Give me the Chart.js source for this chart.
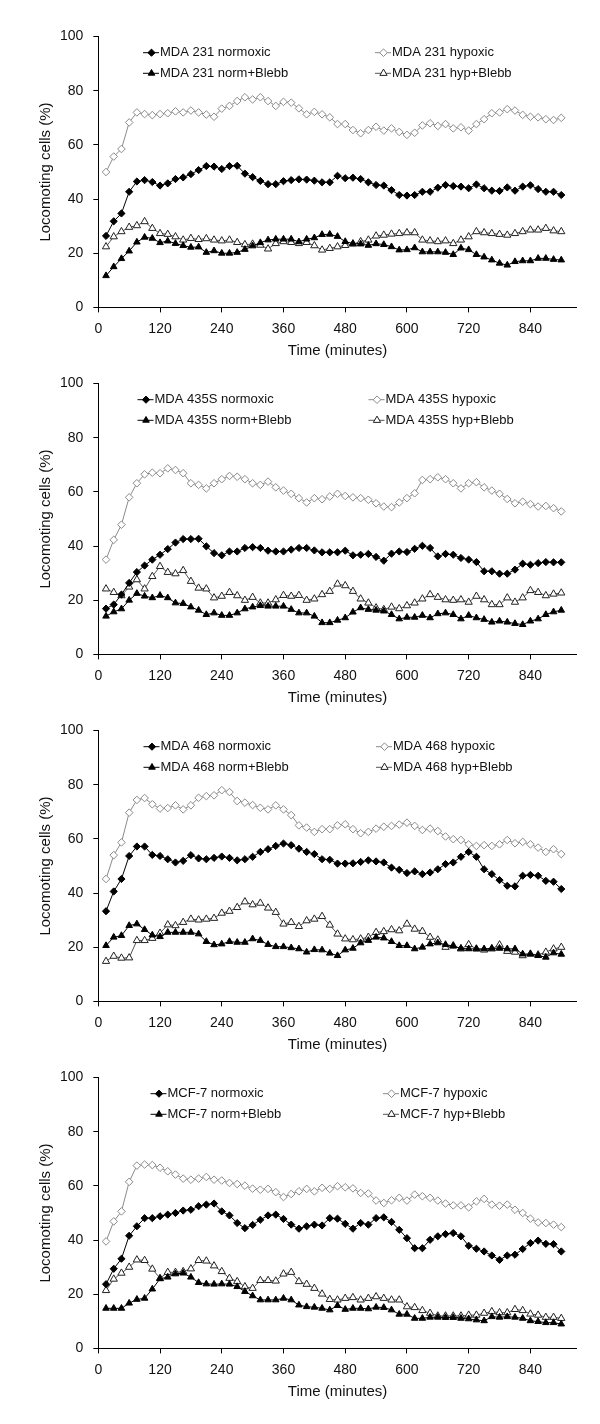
<!DOCTYPE html>
<html>
<head>
<meta charset="utf-8">
<title>Locomoting cells</title>
<script src="https://cdn.jsdelivr.net/npm/chart.js@4/dist/chart.umd.min.js"></script>
<style>
  html, body { margin: 0; padding: 0; background: #fff; }
  #wrap { position: relative; width: 600px; height: 1424px; overflow: hidden; }
  #wrap canvas { position: absolute; left: 0; }
</style>
</head>
<body>
<div id="wrap">
  <canvas id="panel0" width="600" height="360" style="top:0px"></canvas>
  <canvas id="panel1" width="600" height="360" style="top:347px"></canvas>
  <canvas id="panel2" width="600" height="360" style="top:694px"></canvas>
  <canvas id="panel3" width="600" height="360" style="top:1041px"></canvas>
</div>
<script>
// sampling times (minutes)
const TIMES = [15, 30, 45, 60, 75, 90, 105, 120, 135, 150, 165, 180, 195, 210, 225,
  240, 255, 270, 285, 300, 315, 330, 345, 360, 375, 390, 405, 420, 435, 450,
  465, 480, 495, 510, 525, 540, 555, 570, 585, 600, 615, 630, 645, 660, 675,
  690, 705, 720, 735, 750, 765, 780, 795, 810, 825, 840, 855, 870, 885, 900];
const X_TICKS = [0, 120, 240, 360, 480, 600, 720, 840];
const Y_TICKS = [0, 20, 40, 60, 80, 100];

const CELL_LINES = ['MDA 231', 'MDA 435S', 'MDA 468', 'MCF-7'];
const CONDITIONS = ['normoxic', 'hypoxic', 'norm+Blebb', 'hyp+Blebb'];

// MDA 231
const MDA231_NORMOXIC = [26.4, 31.8, 34.7, 42.7, 46.5, 47.0, 46.3, 45.0, 45.8, 47.4, 48.0, 49.2, 50.7, 52.2, 52.0,
  51.1, 52.2, 52.3, 49.4, 48.1, 46.7, 45.5, 45.5, 46.6, 47.0, 47.3, 47.2, 46.8, 46.2, 46.2,
  48.6, 47.7, 47.9, 47.4, 46.2, 45.2, 45.0, 43.3, 41.5, 41.3, 41.5, 42.7, 42.7, 44.2, 45.2,
  44.8, 44.6, 44.0, 45.4, 44.0, 43.1, 43.0, 44.3, 43.1, 44.6, 45.1, 43.7, 42.7, 42.7, 41.5];
const MDA231_HYPOXIC = [50.0, 55.7, 58.5, 68.3, 72.0, 71.4, 71.0, 71.4, 71.7, 72.4, 72.0, 72.7, 72.0, 71.2, 70.4,
  73.4, 74.4, 76.2, 77.6, 76.8, 77.6, 76.2, 74.4, 75.9, 75.6, 73.5, 71.3, 72.2, 71.3, 70.2,
  67.7, 67.7, 65.5, 64.3, 65.5, 66.7, 65.3, 66.1, 64.8, 63.7, 64.5, 67.2, 68.0, 67.0, 67.7,
  66.1, 66.5, 65.3, 67.7, 69.5, 71.7, 72.0, 73.2, 72.7, 71.1, 70.4, 70.2, 69.5, 69.2, 70.0];
const MDA231_NORM_BLEBB = [11.7, 15.0, 18.0, 20.8, 24.1, 25.9, 25.5, 23.9, 24.5, 23.6, 22.8, 22.2, 22.3, 20.3, 20.9,
  20.0, 20.0, 20.3, 21.4, 22.7, 23.9, 24.9, 25.2, 25.2, 25.2, 24.2, 25.2, 25.7, 26.9, 27.0,
  26.2, 24.3, 23.6, 23.4, 22.9, 23.5, 23.2, 22.4, 21.2, 21.3, 22.0, 20.5, 20.5, 20.5, 20.3,
  19.5, 21.9, 21.3, 19.5, 18.6, 17.5, 16.3, 15.6, 16.9, 17.2, 17.2, 18.1, 18.1, 17.7, 17.5];
const MDA231_HYP_BLEBB = [22.4, 26.1, 28.0, 29.6, 30.2, 31.7, 29.2, 27.3, 27.0, 26.1, 24.9, 25.5, 25.1, 25.4, 24.9,
  24.6, 24.9, 24.0, 23.2, 23.4, 23.0, 21.6, 23.6, 24.3, 24.0, 23.6, 24.0, 22.8, 21.2, 21.8,
  22.4, 22.9, 23.4, 24.3, 24.9, 26.4, 26.7, 27.1, 27.3, 27.6, 27.6, 24.9, 24.6, 24.3, 24.6,
  23.6, 24.9, 26.1, 28.0, 27.6, 27.3, 27.0, 26.7, 27.3, 28.0, 28.6, 28.6, 29.2, 28.3, 28.0];

// MDA 435S
const MDA435S_NORMOXIC = [16.9, 18.4, 22.1, 26.4, 30.4, 32.8, 35.0, 36.8, 38.9, 41.3, 42.6, 42.6, 42.7, 39.9, 37.4,
  36.6, 38.0, 38.0, 39.3, 39.6, 39.3, 38.3, 38.0, 38.0, 38.7, 39.3, 39.3, 38.4, 37.7, 37.7,
  37.7, 38.3, 36.6, 36.8, 37.1, 36.0, 34.6, 37.2, 38.0, 37.8, 39.0, 40.1, 39.3, 36.2, 37.1,
  36.8, 35.6, 35.0, 34.1, 30.7, 30.7, 29.8, 29.8, 31.3, 33.5, 33.1, 33.7, 34.1, 34.0, 34.0];
const MDA435S_HYPOXIC = [35.0, 42.3, 47.9, 58.0, 63.2, 66.5, 67.1, 66.9, 68.7, 68.1, 66.9, 63.2, 62.6, 61.3, 63.2,
  64.7, 65.9, 65.6, 64.7, 63.2, 62.6, 63.8, 61.7, 60.5, 59.3, 57.7, 56.1, 57.7, 57.3, 58.3,
  59.3, 58.5, 58.0, 57.7, 57.1, 55.8, 54.6, 54.4, 56.1, 57.7, 59.5, 64.4, 64.7, 65.4, 64.7,
  63.2, 61.3, 63.2, 63.6, 61.7, 60.5, 59.3, 57.4, 55.8, 56.4, 55.5, 54.6, 54.8, 54.0, 52.8];
const MDA435S_NORM_BLEBB = [14.1, 15.7, 16.8, 20.0, 22.5, 21.5, 20.9, 21.8, 20.9, 19.0, 18.8, 17.5, 16.3, 14.7, 15.3,
  14.4, 14.4, 15.3, 16.8, 17.5, 18.0, 17.8, 17.8, 17.8, 16.6, 15.3, 15.3, 14.1, 11.7, 11.7,
  12.6, 13.5, 15.6, 17.2, 16.6, 16.3, 16.0, 14.7, 13.1, 13.7, 13.7, 14.4, 13.5, 15.0, 15.3,
  14.7, 13.1, 14.4, 13.5, 12.9, 11.9, 12.3, 11.9, 11.4, 11.0, 12.3, 13.1, 14.7, 15.7, 16.3];
const MDA435S_HYP_BLEBB = [24.2, 22.9, 21.7, 24.9, 27.6, 24.2, 28.8, 32.5, 30.3, 29.8, 31.0, 27.0, 24.5, 24.2, 20.9,
  21.5, 22.9, 21.7, 20.0, 21.1, 19.0, 19.0, 20.2, 21.8, 21.5, 21.8, 20.0, 20.5, 22.1, 23.3,
  26.0, 25.4, 23.3, 20.5, 19.0, 17.2, 16.6, 17.5, 16.9, 18.0, 19.0, 20.5, 22.1, 21.1, 20.2,
  20.0, 20.2, 19.3, 21.5, 20.2, 18.4, 18.4, 20.9, 19.3, 20.9, 23.6, 22.9, 21.7, 22.3, 22.7];

// MDA 468
const MDA468_NORMOXIC = [33.3, 40.6, 45.2, 53.7, 57.2, 57.2, 54.1, 53.7, 52.5, 51.3, 51.9, 54.0, 52.8, 52.5, 53.0,
  53.5, 53.0, 52.1, 52.5, 53.4, 55.2, 56.2, 57.4, 58.3, 57.7, 56.4, 55.2, 54.4, 52.5, 52.3,
  50.9, 50.9, 51.0, 51.5, 52.1, 51.7, 51.3, 49.4, 48.6, 47.4, 48.0, 47.0, 47.6, 48.8, 50.7,
  51.3, 53.4, 55.2, 53.4, 48.8, 47.0, 44.8, 42.7, 42.5, 46.4, 46.7, 46.4, 44.5, 44.2, 41.5];
const MDA468_HYPOXIC = [45.2, 54.0, 58.7, 69.7, 74.4, 75.1, 72.8, 71.2, 71.4, 72.4, 70.9, 72.4, 75.2, 75.8, 76.1,
  78.0, 77.3, 74.0, 73.4, 72.5, 71.5, 70.9, 72.4, 70.9, 68.8, 65.0, 64.2, 62.6, 63.6, 63.6,
  65.0, 65.4, 63.6, 62.1, 62.6, 63.8, 64.5, 64.8, 65.3, 66.0, 64.8, 63.3, 63.8, 62.9, 60.9,
  59.9, 59.6, 58.0, 57.4, 57.7, 57.4, 58.0, 59.6, 58.4, 58.9, 58.0, 56.8, 55.2, 56.2, 54.4];
const MDA468_NORM_BLEBB = [20.6, 23.7, 24.3, 28.0, 28.6, 26.5, 24.5, 23.9, 25.5, 25.5, 25.5, 25.5, 24.9, 22.1, 20.9,
  21.2, 22.1, 21.8, 21.8, 23.1, 22.5, 21.0, 20.2, 20.2, 19.8, 19.4, 18.2, 19.1, 19.0, 17.8,
  16.9, 19.0, 19.6, 21.6, 22.5, 23.7, 23.4, 22.1, 20.6, 20.6, 19.4, 20.0, 21.2, 21.6, 21.0,
  20.4, 19.6, 19.4, 19.4, 19.4, 19.6, 19.6, 19.4, 19.4, 17.5, 17.5, 16.9, 16.3, 17.9, 17.4];
const MDA468_HYP_BLEBB = [14.8, 16.7, 16.0, 16.1, 22.5, 22.5, 23.3, 25.2, 28.3, 28.0, 29.2, 30.4, 30.1, 30.4, 30.7,
  32.6, 33.3, 34.7, 36.8, 35.7, 36.3, 34.5, 32.9, 28.6, 29.2, 27.7, 29.8, 30.4, 31.4, 28.2,
  24.9, 23.1, 22.8, 23.1, 23.7, 25.5, 25.8, 26.5, 26.1, 28.6, 26.7, 25.9, 23.7, 22.7, 20.0,
  20.6, 19.4, 21.0, 19.4, 19.0, 19.4, 20.9, 18.5, 18.2, 16.9, 17.5, 17.2, 18.2, 19.4, 20.0];

// MCF-7
const MCF7_NORMOXIC = [23.7, 29.4, 33.1, 41.6, 45.1, 48.1, 48.1, 48.8, 49.4, 50.0, 50.9, 51.2, 52.5, 53.1, 53.5,
  50.6, 49.1, 46.3, 44.4, 45.6, 47.5, 49.1, 49.4, 47.8, 45.7, 44.2, 45.1, 45.7, 45.4, 48.1,
  47.9, 46.0, 44.2, 46.3, 45.7, 48.1, 48.4, 46.7, 43.8, 40.7, 37.0, 37.0, 40.1, 41.4, 42.2,
  42.6, 41.4, 37.9, 36.8, 35.8, 34.3, 32.7, 34.3, 34.6, 36.7, 38.9, 39.8, 38.6, 38.5, 35.8];
const MCF7_HYPOXIC = [39.5, 46.9, 50.6, 61.5, 67.5, 67.9, 67.7, 66.7, 65.4, 64.2, 62.7, 62.3, 62.7, 63.3, 62.3,
  62.0, 61.1, 60.7, 60.1, 59.0, 58.6, 58.9, 57.7, 55.9, 57.0, 58.0, 58.9, 58.0, 59.3, 58.9,
  59.9, 59.5, 59.1, 57.4, 57.2, 54.6, 53.7, 54.7, 55.6, 54.6, 56.8, 56.2, 55.6, 54.6, 53.5,
  52.8, 52.8, 52.1, 54.3, 55.2, 53.1, 52.7, 53.1, 51.2, 50.0, 47.9, 46.5, 46.3, 45.7, 44.8];
const MCF7_NORM_BLEBB = [14.8, 14.8, 14.8, 16.7, 18.1, 18.5, 21.9, 25.7, 26.3, 27.5, 27.8, 26.3, 24.3, 23.8, 23.7,
  23.8, 23.7, 22.8, 21.0, 19.4, 17.9, 17.9, 17.9, 18.5, 17.9, 16.0, 15.4, 15.2, 14.8, 14.2,
  15.8, 14.4, 14.8, 14.8, 14.6, 15.2, 15.1, 14.2, 12.6, 12.6, 11.1, 11.1, 11.5, 11.5, 11.4,
  11.4, 11.1, 10.9, 10.5, 10.2, 11.7, 11.5, 11.7, 11.5, 11.1, 10.2, 9.9, 9.5, 9.5, 9.0];
const MCF7_HYP_BLEBB = [21.4, 25.6, 27.8, 30.0, 32.7, 32.5, 29.3, 25.9, 28.1, 28.1, 28.4, 29.4, 32.5, 32.3, 30.5,
  28.4, 25.9, 24.7, 22.8, 22.2, 25.1, 25.1, 24.9, 27.5, 28.1, 24.7, 23.7, 22.2, 20.1, 18.1,
  17.9, 18.5, 18.8, 17.9, 18.5, 19.1, 18.5, 17.9, 17.9, 15.4, 15.1, 14.0, 13.0, 12.0, 12.0,
  12.0, 12.0, 12.3, 12.3, 13.0, 13.6, 13.2, 13.2, 14.4, 14.0, 12.7, 12.3, 11.5, 11.5, 11.1];

const PANEL_SERIES = [
  [MDA231_NORMOXIC, MDA231_HYPOXIC, MDA231_NORM_BLEBB, MDA231_HYP_BLEBB],
  [MDA435S_NORMOXIC, MDA435S_HYPOXIC, MDA435S_NORM_BLEBB, MDA435S_HYP_BLEBB],
  [MDA468_NORMOXIC, MDA468_HYPOXIC, MDA468_NORM_BLEBB, MDA468_HYP_BLEBB],
  [MCF7_NORMOXIC, MCF7_HYPOXIC, MCF7_NORM_BLEBB, MCF7_HYP_BLEBB]
];

// ---- styling ----
const FONT = '"Liberation Sans", Arial, sans-serif';

// marker/line look for each condition
const STYLES = [
  { shape: 'rectRot', radius: 3.6, fill: '#000', stroke: '#000', line: '#000' },
  { shape: 'rectRot', radius: 3.8, fill: '#fff', stroke: '#8a8a8a', line: '#8a8a8a' },
  { shape: 'triangle', radius: 3.8, fill: '#000', stroke: '#000', line: '#000' },
  { shape: 'triangle', radius: 4.2, fill: '#fff', stroke: '#222', line: '#555' }
];

// x where the legend text of the two columns starts, per panel
const LEGEND_COLS = [[160, 392], [154.5, 385.5], [160.5, 393], [167.5, 400]];
const LEGEND_ROWS = [52.7, 73.3];

function drawMarker(ctx, style, x, y) {
  const r = style.radius;
  ctx.beginPath();
  if (style.shape === 'rectRot') {
    ctx.moveTo(x - r, y);
    ctx.lineTo(x, y - r);
    ctx.lineTo(x + r, y);
    ctx.lineTo(x, y + r);
  } else {
    ctx.moveTo(x, y - r);
    ctx.lineTo(x + r * Math.sin(2 * Math.PI / 3), y - r * Math.cos(2 * Math.PI / 3));
    ctx.lineTo(x + r * Math.sin(4 * Math.PI / 3), y - r * Math.cos(4 * Math.PI / 3));
  }
  ctx.closePath();
  ctx.fillStyle = style.fill;
  ctx.fill();
  ctx.lineWidth = 1;
  ctx.strokeStyle = style.stroke;
  ctx.stroke();
}

// two-column legend inside the plot, like the Excel original
const cornerLegend = {
  id: 'cornerLegend',
  afterDraw(chart, args, opts) {
    const ctx = chart.ctx;
    ctx.save();
    chart.data.datasets.forEach((ds, i) => {
      const style = STYLES[i];
      const tx = opts.cols[i % 2];
      const ty = LEGEND_ROWS[Math.floor(i / 2)];
      ctx.strokeStyle = style.line;
      ctx.lineWidth = 1;
      ctx.beginPath();
      ctx.moveTo(tx - 17, ty);
      ctx.lineTo(tx - 1, ty);
      ctx.stroke();
      drawMarker(ctx, style, tx - 8.5, ty);
      ctx.fillStyle = '#111';
      ctx.font = '13px ' + FONT;
      ctx.textBaseline = 'middle';
      ctx.textAlign = 'left';
      ctx.fillText(ds.label, tx, ty);
    });
    ctx.restore();
  }
};

function buildPanel(p) {
  const datasets = PANEL_SERIES[p].map((values, i) => ({
    label: CELL_LINES[p] + ' ' + CONDITIONS[i],
    data: TIMES.map((t, k) => ({ x: t, y: values[k] })),
    borderColor: STYLES[i].line,
    borderWidth: 1,
    pointStyle: STYLES[i].shape,
    pointRadius: STYLES[i].radius,
    pointBackgroundColor: STYLES[i].fill,
    pointBorderColor: STYLES[i].stroke,
    pointBorderWidth: 1,
    tension: 0,
    fill: false
  }));

  new Chart(document.getElementById('panel' + p), {
    type: 'line',
    data: { datasets: datasets },
    plugins: [cornerLegend],
    options: {
      responsive: false,
      animation: false,
      devicePixelRatio: 1,
      layout: { padding: { top: 36.6, right: 23.3, left: 33, bottom: 0 } },
      plugins: {
        legend: { display: false },
        tooltip: { enabled: false },
        cornerLegend: { cols: LEGEND_COLS[p] }
      },
      scales: {
        x: {
          type: 'linear',
          min: 0,
          max: 930,
          afterBuildTicks: (scale) => {
            scale.ticks = X_TICKS.map(v => ({ value: v }));
          },
          afterFit: (scale) => { scale.height = 52.6; },
          ticks: { color: '#111', padding: 8, maxRotation: 0, autoSkip: false,
                   font: { family: FONT, size: 14 } },
          grid: { drawOnChartArea: false, tickLength: 5, color: '#000' },
          border: { color: '#000', width: 1 },
          title: { display: true, text: 'Time (minutes)', color: '#111',
                   font: { family: FONT, size: 15 }, padding: { top: 4, bottom: 0 } }
        },
        y: {
          min: 0,
          max: 100,
          afterBuildTicks: (scale) => {
            scale.ticks = Y_TICKS.map(v => ({ value: v }));
          },
          afterFit: (scale) => { scale.width = 65.3; },
          ticks: { color: '#111', padding: 10, font: { family: FONT, size: 14 } },
          grid: { drawOnChartArea: false, tickLength: 5, color: '#000' },
          border: { color: '#000', width: 1 },
          title: { display: true, text: 'Locomoting cells (%)', color: '#111',
                   font: { family: FONT, size: 15 }, padding: { top: 4, bottom: 0 } }
        }
      }
    }
  });
}

for (let p = 0; p < PANEL_SERIES.length; p++) {
  buildPanel(p);
}
</script>
</body>
</html>
